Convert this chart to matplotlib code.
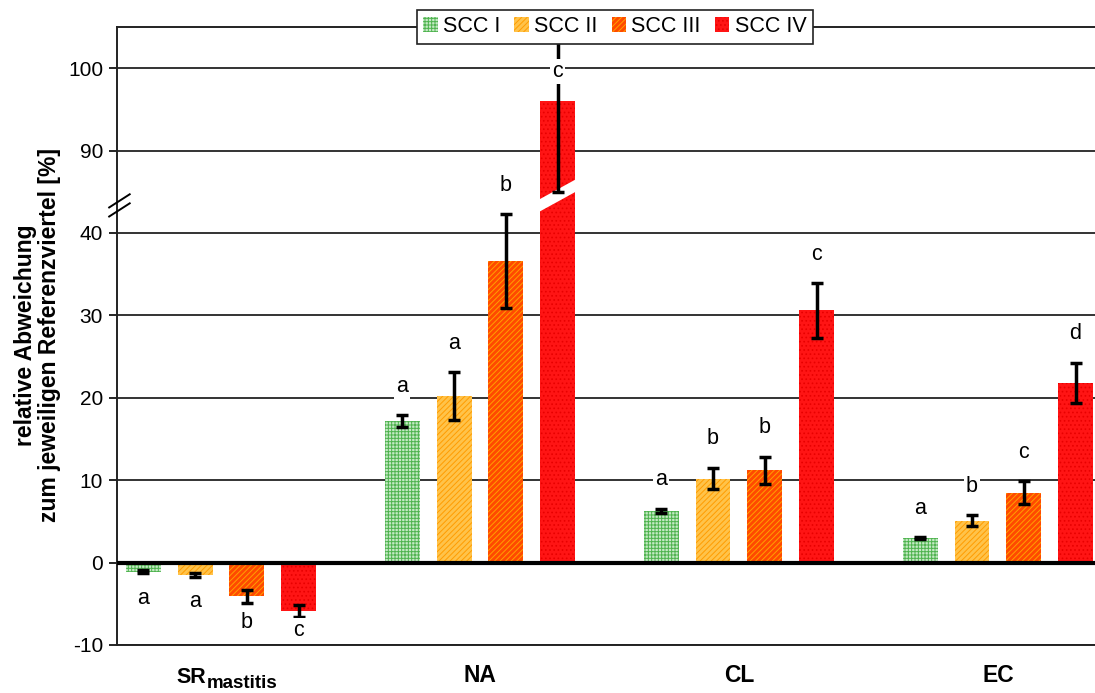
import numpy as np
import matplotlib
matplotlib.use("Agg")
import matplotlib.pyplot as plt
import matplotlib.transforms as mtransforms
from matplotlib.patches import Patch, Polygon

plt.rcParams['font.family'] = ['Liberation Sans', 'DejaVu Sans']
plt.rcParams['hatch.linewidth'] = 0.7

# data (real units, %)
categories = ['SR', 'NA', 'CL', 'EC']
cat_subscripts = ['mastitis', '', '', '']
series = ['SCC I', 'SCC II', 'SCC III', 'SCC IV']
values = {
    'SCC I':   [-1.1, 17.2, 6.3, 3.0],
    'SCC II':  [-1.5, 20.2, 10.2, 5.1],
    'SCC III': [-4.1, 36.6, 11.2, 8.5],
    'SCC IV':  [-5.9, 96.0, 30.6, 21.8],
}
errors = {
    'SCC I':   [0.15, 0.7, 0.25, 0.1],
    'SCC II':  [0.25, 2.9, 1.3, 0.65],
    'SCC III': [0.8, 5.7, 1.65, 1.35],
    'SCC IV':  [0.7, 11.0, 3.35, 2.45],
}
letters = {
    'SCC I':   ['a', 'a', 'a', 'a'],
    'SCC II':  ['a', 'a', 'b', 'b'],
    'SCC III': ['b', 'b', 'b', 'c'],
    'SCC IV':  ['c', 'c', 'c', 'd'],
}
ytick_real = [-10, 0, 10, 20, 30, 40, 90, 100]

styles = {
    'SCC I':   dict(facecolor='#c4eac4', edgecolor='#4fb34f', hatch='+++++'),
    'SCC II':  dict(facecolor='#ffc34a', edgecolor='#ff9c00', hatch='//////'),
    'SCC III': dict(facecolor='#ff4a00', edgecolor='#ffa000', hatch='//////'),
    'SCC IV':  dict(facecolor='#ff1414', edgecolor='#e80000', hatch='....'),
}

SHIFT = 40  # 90 on the upper part sits where 50 would be


def tr(v):
    # broken axis: values of the upper part are shifted down
    v = np.asarray(v, dtype=float)
    return np.where(v > 60, v - SHIFT, v)


fig = plt.figure(figsize=(10.95, 6.93), dpi=100)
ax = fig.add_axes([117 / 1095, 48 / 693, 978 / 1095, 618 / 693])

x = np.arange(len(categories))
offs = [-0.3, -0.1, 0.1, 0.3]
width = 0.135

for i, s in enumerate(series):
    v = np.array(values[s])
    e = np.array(errors[s])
    xs = x + offs[i]
    ax.bar(xs, tr(v), width, linewidth=0, zorder=2, **styles[s])
    lo = tr(v - e)
    hi = tr(v + e)
    ax.errorbar(xs, tr(v), yerr=[tr(v) - lo, hi - tr(v)], fmt='none',
                ecolor='black', elinewidth=2.5, capsize=4, capthick=2.5, zorder=4)
    for j in range(len(categories)):
        if v[j] < 0:
            ly = max(v[j] - 3.2, -8.2)
        else:
            ly = min(float(hi[j]) + 3.5, 59.6)
        ax.text(xs[j], ly, letters[s][j], ha='center', va='center', fontsize=15.5,
                zorder=6, bbox=dict(facecolor='white', edgecolor='none', pad=1.5))

    # white break stripe on the bar that crosses the axis break
    for j in range(len(categories)):
        if v[j] > 60:
            x0, x1 = xs[j] - width / 2 - 0.002, xs[j] + width / 2 + 0.002
            stripe = Polygon([(x0, 42.6), (x1, 45.0), (x1, 46.5), (x0, 44.1)],
                             closed=True, facecolor='white', edgecolor='none', zorder=3)
            ax.add_patch(stripe)

ax.set_xlim(-0.4015, 3.375)
ax.set_ylim(-10, 65)
ax.set_yticks(tr(ytick_real))
ax.set_yticklabels([str(t) for t in ytick_real], fontsize=15)
ax.set_xticks(x)
ax.set_xticklabels([c if not sub else '' for c, sub in zip(categories, cat_subscripts)],
                   fontsize=16.5, fontweight='bold')
ax.tick_params(axis='x', length=0, pad=14)
ax.tick_params(axis='y', length=6, width=1.2, direction='out', pad=4)

# category labels with subscript
trans = mtransforms.blended_transform_factory(ax.transData, ax.transAxes)
for j, (c, sub) in enumerate(zip(categories, cat_subscripts)):
    if sub:
        ax.text(x[j] - 0.058, -0.0615, c, transform=trans, ha='right', va='baseline',
                fontsize=15.5, fontweight='bold')
        ax.text(x[j] - 0.056, -0.069, sub, transform=trans, ha='left', va='baseline',
                fontsize=13.5, fontweight='bold')

ax.yaxis.grid(True, color='#333333', linewidth=1.4, zorder=0)
ax.set_axisbelow(True)
ax.axhline(0, color='black', linewidth=3, zorder=5)

for side in ['left', 'top', 'bottom']:
    ax.spines[side].set_color('#222222')
    ax.spines[side].set_linewidth(1.4)
ax.spines['right'].set_visible(False)

# break marks on the y axis
for dy in [0, 1.1]:
    ax.plot([-0.008, 0.013], [42.0 + dy, 43.6 + dy],
            transform=ax.get_yaxis_transform(), color='black', linewidth=1.4,
            clip_on=False, zorder=7)

ax.set_ylabel('relative Abweichung\nzum jeweiligen Referenzviertel [%]',
              fontsize=16.5, fontweight='bold', linespacing=1.05)
ax.yaxis.set_label_coords(-0.057, 0.502)

handles = [Patch(linewidth=0, label=s, **styles[s]) for s in series]
leg = ax.legend(handles=handles, loc='upper center', bbox_to_anchor=(0.509, 1.028),
                ncol=4, fontsize=15.5, frameon=True, fancybox=False, framealpha=1,
                handlelength=0.67, handleheight=0.67, handletextpad=0.25,
                columnspacing=0.65, borderpad=0.3, borderaxespad=0)
leg.get_frame().set_edgecolor('#222222')
leg.get_frame().set_linewidth(1.2)
leg.set_zorder(10)

fig.savefig('out.png', dpi=100)
